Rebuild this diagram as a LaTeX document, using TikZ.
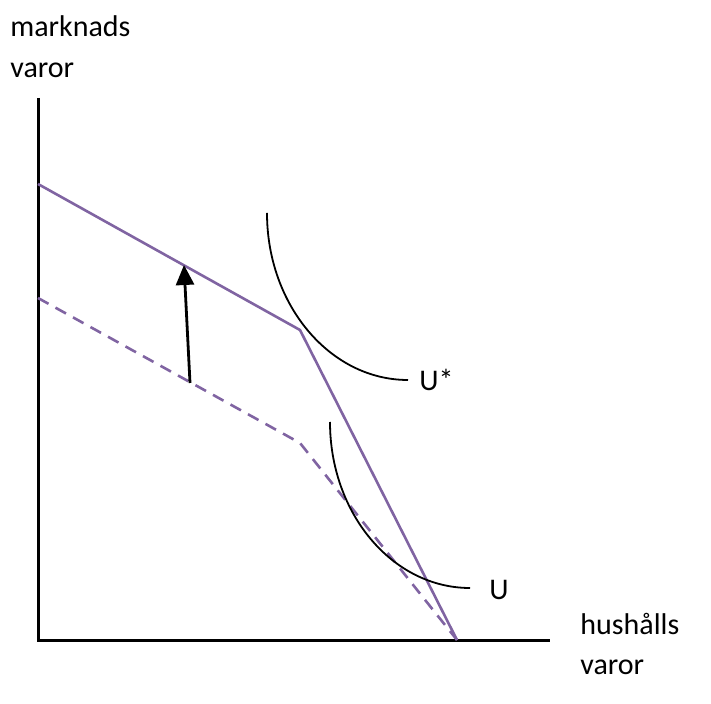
\documentclass[tikz,border=0pt]{standalone}
\usepackage{fontspec}
\setmainfont{Carlito}
\usetikzlibrary{arrows.meta}
\definecolor{budget}{RGB}{128,100,162}
\tikzset{
  lbl/.style={anchor=base west,inner sep=0pt,font=\fontsize{15}{17}\selectfont},
  axis/.style={line width=1.5pt,black},
  budgetline/.style={line width=1.3pt,budget,line join=miter},
  olddash/.style={budgetline,dash pattern=on 6pt off 4pt},
  indiff/.style={line width=0.9pt,black},
  shiftarrow/.style={line width=1.4pt,black,-{Triangle[length=10pt,width=9pt]}}
}
\begin{document}
\begin{tikzpicture}[x=0.5pt,y=-0.5pt]
\useasboundingbox (0,0) rectangle (711,704);
% axes
\coordinate (ytop) at (38,98);
\coordinate (origin) at (38,640);
\coordinate (xend) at (550,640);
\draw[axis] (ytop) -- (origin) -- (xend);
% budget lines
\coordinate (s0) at (38,184);
\coordinate (k1) at (300,330);
\coordinate (e) at (457,640);
\coordinate (d0) at (38,298);
\coordinate (k0) at (300,443);
\draw[budgetline] (s0) -- (k1) -- (e);
\draw[olddash] (d0) -- (k0) -- (e);
% shift arrow
\coordinate (a0) at (190,383);
\coordinate (a1) at (184,265);
\draw[shiftarrow] (a0) -- (a1);
% indifference curves
\coordinate (us0) at (267,213);
\coordinate (us1) at (408,380);
\draw[indiff] (us0) .. controls (267,305.2) and (330.1,380) .. (us1);
\coordinate (u0) at (330,422);
\coordinate (u1) at (470,588);
\draw[indiff] (u0) .. controls (330,513.7) and (392.7,588) .. (u1);
% labels
\node[lbl] (ylab1) at (10,37) {marknads};
\node[lbl] (ylab2) at (10,78) {varor};
\node[lbl] (xlab1) at (580,634) {hushålls};
\node[lbl] (xlab2) at (580,674) {varor};
\node[lbl] (ustar) at (419,391) {U*};
\node[lbl] (ulab) at (489,599) {U};
\end{tikzpicture}
\end{document}
